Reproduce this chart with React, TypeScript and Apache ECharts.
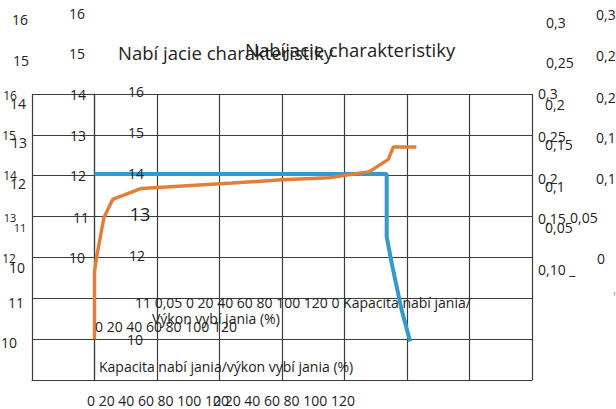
import React, { useEffect, useRef } from "react";
import * as echarts from "echarts";

// ---- series data (x: % capacity / power, y: voltage-like scale) ----
const chargeX = [0, 0, 0.7, 3, 5.8, 15, 44, 60, 75, 88, 94, 95.6, 103];
const chargeY = [10, 11.65, 12.02, 12.97, 13.42, 13.69, 13.82, 13.9, 13.95, 14.1, 14.4, 14.7, 14.7];
const dischargeX = [0, 93.5, 93.5, 95.1, 98.3, 101];
const dischargeY = [14.04, 14.04, 12.51, 11.86, 10.71, 9.94];

// ---- texts ----
const titles = ["Nabí jacie charakteristiky", "Nabíjacie charakteristiky"];
const outerLeftTicks = ["16", "15"];
const leftTicks = ["16", "15", "14", "13", "12", "11", "10"];
const leftSubTicks = ["14", "13", "12", "11", "10"];
const secondTicks = ["16", "15", "14", "13", "12", "11", "10"];
const innerTicks = ["16", "15", "14", "13", "12", "10"];
const rightTopTicks = ["0,3", "0,25"];
const rightTicks = ["0,3", "0,25", "0,2", "0,15", "0,10 _"];
const rightSubTicks = ["0,2", "0,15", "0,1", "0,05"];
const farRightTicks = ["0,3", "0,25", "0,2", "0,15", "0,1", "0,05", "0", "'"];
const captions = [
  "11 0,05 0 20 40 60 80 100 120 0 Kapacita nabí jania/",
  "Výkon vybí jania (%)",
  "0 20 40 60 80 100 120",
  "Kapacita nabí jania/výkon vybí jania (%)",
  "0 20 40 60 80 100 120",
  "0 20 40 60 80 100 120",
];

// ---- layout (positions / sizes only) ----
const outerLeftPos = [[20, 19], [21, 60]];
const leftPos = [[10, 95], [9, 135], [10, 175], [10, 217], [9, 258], [16, 302], [9, 342]];
const leftSizes = [12, 12, 12, 11, 12, 14, 14];
const leftSubPos = [[18, 103], [19, 142], [18, 183], [20, 227], [17, 267]];
const leftSubSizes = [14, 14, 14, 11, 14];
const secondPos = [[77, 13], [77, 53], [78, 94], [78, 135], [78, 175], [81, 217], [77, 257]];
const innerPos = [[136, 91], [136, 132], [136, 173], [140, 214], [137, 255], [135, 339]];
const innerSizes = [14, 14, 14, 18, 14, 14];
const rightTopPos = [[546, 22], [546, 62]];
const rightPos = [[538, 93], [538, 136], [538, 178], [538, 218], [538, 269]];
const rightSubPos = [[545, 104], [545, 144], [545, 186], [545, 227]];
const farRightPos = [[596, 14], [596, 55], [596, 97], [596, 137], [596, 178], [570, 217], [597, 258], [613, 296]];
const captionPos = [[135, 302], [152, 318], [95, 326], [99, 366], [87, 400], [213, 400]];
const titlePos = [[118, 52], [245, 49]];

const FONT = "'Open Sans', 'Noto Sans', sans-serif";
const INK = "#222";

function texts(list: string[], pos: number[][], size: number | number[], align: string) {
  return list.map((t, i) => ({
    type: "text",
    x: pos[i][0],
    y: pos[i][1],
    z: 50,
    style: {
      text: t,
      fontSize: Array.isArray(size) ? size[i] : size,
      fontFamily: FONT,
      fill: t === "'" ? "#999" : INK,
      align,
      verticalAlign: "middle",
    },
  }));
}

export default function App() {
  const ref = useRef<HTMLDivElement>(null);
  useEffect(() => {
    if (!ref.current) return;
    const chart = echarts.init(ref.current, undefined, { renderer: "svg" });
    const lineCol = { color: "#3c3c3c", width: 1.2 };
    chart.setOption({
      animation: false,
      backgroundColor: "#fff",
      grid: { left: 32, top: 94, width: 500, height: 286 },
      xAxis: {
        type: "value",
        min: -20,
        max: 140,
        interval: 20,
        axisLabel: { show: false },
        axisTick: { show: false },
        axisLine: { show: true, lineStyle: lineCol },
        splitLine: { show: true, lineStyle: lineCol },
      },
      yAxis: {
        type: "value",
        min: 9,
        max: 16,
        interval: 1,
        axisLabel: { show: false },
        axisTick: { show: false },
        axisLine: { show: true, lineStyle: lineCol },
        splitLine: { show: true, lineStyle: lineCol },
      },
      series: [
        {
          type: "line",
          data: dischargeX.map((x, i) => [x, dischargeY[i]]),
          symbol: "none",
          lineStyle: { color: "#3499cb", width: 4 },
          z: 3,
        },
        {
          type: "line",
          data: chargeX.map((x, i) => [x, chargeY[i]]),
          symbol: "none",
          lineStyle: { color: "#e07f3a", width: 3.5 },
          z: 4,
        },
      ],
      graphic: [
        ...texts(titles, titlePos, 18.5, "left"),
        ...texts(outerLeftTicks, outerLeftPos, 14, "center"),
        ...texts(leftTicks, leftPos, leftSizes, "center"),
        ...texts(leftSubTicks, leftSubPos, leftSubSizes, "center"),
        ...texts(secondTicks, secondPos, 14, "center"),
        ...texts(innerTicks, innerPos, innerSizes, "center"),
        ...texts(rightTopTicks, rightTopPos, 14, "left"),
        ...texts(rightTicks, rightPos, 14, "left"),
        ...texts(rightSubTicks, rightSubPos, 14, "left"),
        ...texts(farRightTicks, farRightPos, 14, "left"),
        ...texts(captions, captionPos, 14, "left"),
      ],
    });
    return () => chart.dispose();
  }, []);
  return (
    <div
      ref={ref}
      style={{ position: "fixed", left: 0, top: 0, width: 616, height: 409, background: "#fff" }}
    />
  );
}
